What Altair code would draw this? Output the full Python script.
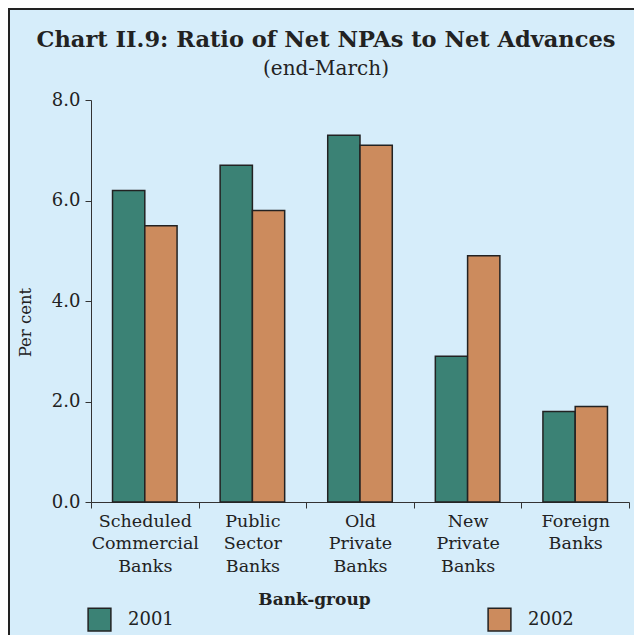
import altair as alt
import pandas as pd

groups = ["Scheduled Commercial Banks", "Public Sector Banks", "Old Private Banks",
          "New Private Banks", "Foreign Banks"]
years = ["2001", "2002"]
v2001 = [6.2, 6.7, 7.3, 2.9, 1.8]
v2002 = [5.5, 5.8, 7.1, 4.9, 1.9]
colors = ["#3b8275", "#cc8b5d"]

rows = []
for g, a, b in zip(groups, v2001, v2002):
    rows.append({"group": g, "year": "2001", "value": a})
    rows.append({"group": g, "year": "2002", "value": b})
df = pd.DataFrame(rows)

FONT = "DejaVu Serif"

bars = alt.Chart(df).mark_bar(stroke="#222222", strokeWidth=1.5).encode(
    x=alt.X("group:N", sort=groups,
            scale=alt.Scale(paddingInner=0, paddingOuter=0),
            axis=alt.Axis(title="Bank-group", labelAngle=0,
                          labelExpr="split(datum.label, ' ')",
                          labelLineHeight=22.5, labelFontSize=17.5, labelFont=FONT,
                          labelColor="#222222", labelPadding=4, labelBaseline="top",
                          tickBand="extent", tickSize=6, tickColor="#333333",
                          domainColor="#333333", titleFont=FONT, titleFontSize=17,
                          titleFontWeight="bold", titleColor="#222222",
                          titleX=223, titleY=102, titleAlign="center",
                          titleBaseline="alphabetic")),
    xOffset=alt.XOffset("year:N", sort=years,
                        scale=alt.Scale(paddingInner=0, paddingOuter=0.667)),
    y=alt.Y("value:Q", scale=alt.Scale(domain=[0, 8]),
            axis=alt.Axis(title="Per cent", values=[0, 2, 4, 6, 8], format=".1f",
                          grid=False, tickSize=6, tickColor="#333333",
                          domainColor="#333333", labelFont=FONT, labelFontSize=18,
                          labelColor="#222222", labelPadding=5,
                          titleFont=FONT, titleFontSize=16.5, titleFontWeight="normal",
                          titleColor="#222222", titleX=-66, titleY=222,
                          titleAlign="center", titleBaseline="middle", titleAngle=-90)),
    color=alt.Color("year:N", sort=years,
                    scale=alt.Scale(domain=years, range=colors),
                    legend=alt.Legend(title=None, orient="none", legendX=-4, legendY=507,
                                      direction="horizontal", symbolType="square",
                                      symbolSize=520, symbolStrokeColor="#222222",
                                      symbolStrokeWidth=1.5, labelFont=FONT,
                                      labelFontSize=18, labelColor="#222222",
                                      labelOffset=16, columnPadding=311)),
)

border_df = pd.DataFrame({"k": [0]})
left_border = alt.Chart(border_df).mark_rule(color="#222222", strokeWidth=2).encode(
    x=alt.value(-82), y=alt.value(-92), y2=alt.value(535))
top_border = alt.Chart(border_df).mark_rule(color="#222222", strokeWidth=2).encode(
    x=alt.value(-83), x2=alt.value(543), y=alt.value(-91))

chart = alt.layer(bars, left_border, top_border).properties(
    width=538, height=402,
    autosize=alt.AutoSizeParams(type="none"),
    padding={"left": 83, "top": 92, "right": 5, "bottom": 133},
    background="#d6edfa",
    title=alt.TitleParams(
        text="Chart II.9: Ratio of Net NPAs to Net Advances",
        subtitle="(end-March)",
        font=FONT, fontSize=22.5, fontWeight="bold", color="#222222",
        subtitleFont=FONT, subtitleFontSize=20, subtitleColor="#222222",
        subtitlePadding=8, anchor="middle", dx=-34, offset=-72),
).configure_view(stroke=None)

chart.save("out.html", embed_options={"renderer": "svg", "actions": False})
